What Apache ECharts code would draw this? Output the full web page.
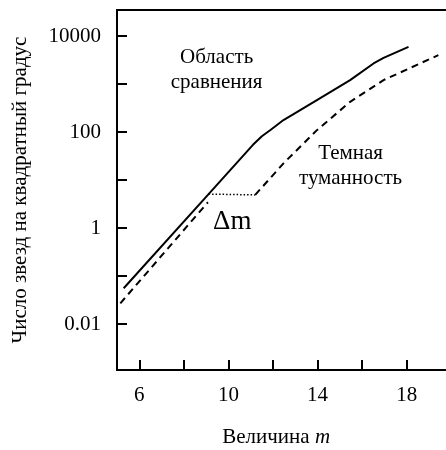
<!DOCTYPE html>
<html><head><meta charset="utf-8">
<script src="https://cdn.jsdelivr.net/npm/echarts@6/dist/echarts.min.js"></script>
<style>html,body{margin:0;padding:0;background:#fff}#c{width:446px;height:450px}</style>
</head><body><div id="c"></div>
<script>
// Comparison field (solid)
const solidX = [5.3, 9.11, 11.1, 11.5, 11.9, 12.47, 13.97, 15.46, 16.51, 16.96, 18.08];
const solidY = [0.0555, 5.1, 54.2, 82, 112, 178, 465, 1211, 2692, 3532, 5984];
// Dark nebula (dashed), bright part and faint part
const nebLowX = [5.15, 9.08];
const nebLowY = [0.027, 3.45];
const nebHighX = [11.2, 12.47, 13.97, 15.46, 16.96, 19.42];
const nebHighY = [4.9, 22.3, 109.6, 426.6, 1211, 4018];
// Delta m (dotted)
const dmX = [9.11, 11.2];
const dmY = [5.1, 4.9];
// Axis ticks / labels
const xTickValues = [6, 8, 10, 12, 14, 16, 18];
const xLabelValues = [6, 10, 14, 18];
const yTickValues = [0.01, 0.1, 1, 10, 100, 1000, 10000];
const yLabelValues = [0.01, 1, 100, 10000];
const yLabelTexts = ['0.01', '1', '100', '10000'];
// Annotations
const notes = [
  {x: 9.47, y: 2004, text: 'Область\nсравнения', size: 21},
  {x: 15.48, y: 20.0, text: 'Темная\nтуманность', size: 21},
  {x: 10.17, y: 1.33, text: 'Δm', size: 27}
];

const FONT = 'Liberation Serif';
const pairs = (xs, ys) => xs.map((x, i) => [x, ys[i]]);

const chart = echarts.init(document.getElementById('c'), null, {renderer: 'canvas'});
chart.setOption({
  animation: false,
  backgroundColor: '#fff',
  textStyle: {fontFamily: FONT, color: '#000'},
  grid: {left: 117, top: 10, right: -5.3, bottom: 80, containLabel: false, outerBoundsMode: 'none',
         show: true, borderColor: '#000', borderWidth: 2, backgroundColor: 'transparent'},
  xAxis: {
    type: 'value', min: 5, max: 20,
    name: 'Величина {i|m}', nameLocation: 'middle', nameGap: 57,
    nameTextStyle: {fontFamily: FONT, fontSize: 21, color: '#000', padding: [0, 16, 0, 0],
      rich: {i: {fontFamily: FONT, fontSize: 21, fontStyle: 'italic', color: '#000'}}},
    axisLine: {show: true, lineStyle: {color: '#000', width: 2}},
    axisTick: {show: true, inside: true, length: 10, lineStyle: {color: '#000', width: 2}, customValues: xTickValues},
    axisLabel: {show: true, margin: 15, fontFamily: FONT, fontSize: 21, color: '#000', customValues: xLabelValues},
    splitLine: {show: false}
  },
  yAxis: {
    type: 'log', logBase: 10, min: 0.0011, max: 35000,
    name: 'Число звезд на квадратный градус', nameLocation: 'middle', nameGap: 86, nameRotate: 90,
    nameTextStyle: {fontFamily: FONT, fontSize: 21, color: '#000'},
    axisLine: {show: true, lineStyle: {color: '#000', width: 2}},
    axisTick: {show: true, inside: true, length: 10, lineStyle: {color: '#000', width: 2}, customValues: yTickValues},
    axisLabel: {show: true, margin: 16, fontFamily: FONT, fontSize: 21, color: '#000', customValues: yLabelValues,
      formatter: function (v) {
        let best = 0, d = Infinity;
        yLabelValues.forEach((t, i) => { const e = Math.abs(Math.log10(v) - Math.log10(t)); if (e < d) { d = e; best = i; } });
        return yLabelTexts[best];
      }},
    splitLine: {show: false}, minorTick: {show: false}
  },
  series: [
    {type: 'line', data: pairs(solidX, solidY), showSymbol: false, symbol: 'none', smooth: false,
     lineStyle: {color: '#000', width: 2}, z: 3,
     markPoint: {symbol: 'circle', symbolSize: 0, silent: true,
       data: notes.map(n => ({coord: [n.x, n.y], value: n.text,
         label: {show: true, position: 'inside', formatter: n.text, fontFamily: FONT, fontSize: n.size,
                 lineHeight: 25, color: '#000', align: 'center', verticalAlign: 'middle'}}))}},
    {type: 'line', data: pairs(nebLowX, nebLowY), showSymbol: false, symbol: 'none',
     lineStyle: {color: '#000', width: 2, type: [7, 5]}},
    {type: 'line', data: pairs(nebHighX, nebHighY), showSymbol: false, symbol: 'none',
     lineStyle: {color: '#000', width: 2, type: [7, 5]}},
    {type: 'line', data: pairs(dmX, dmY), showSymbol: false, symbol: 'none',
     lineStyle: {color: '#000', width: 1.5, type: [1.5, 2]}}
  ]
});
</script></body></html>
